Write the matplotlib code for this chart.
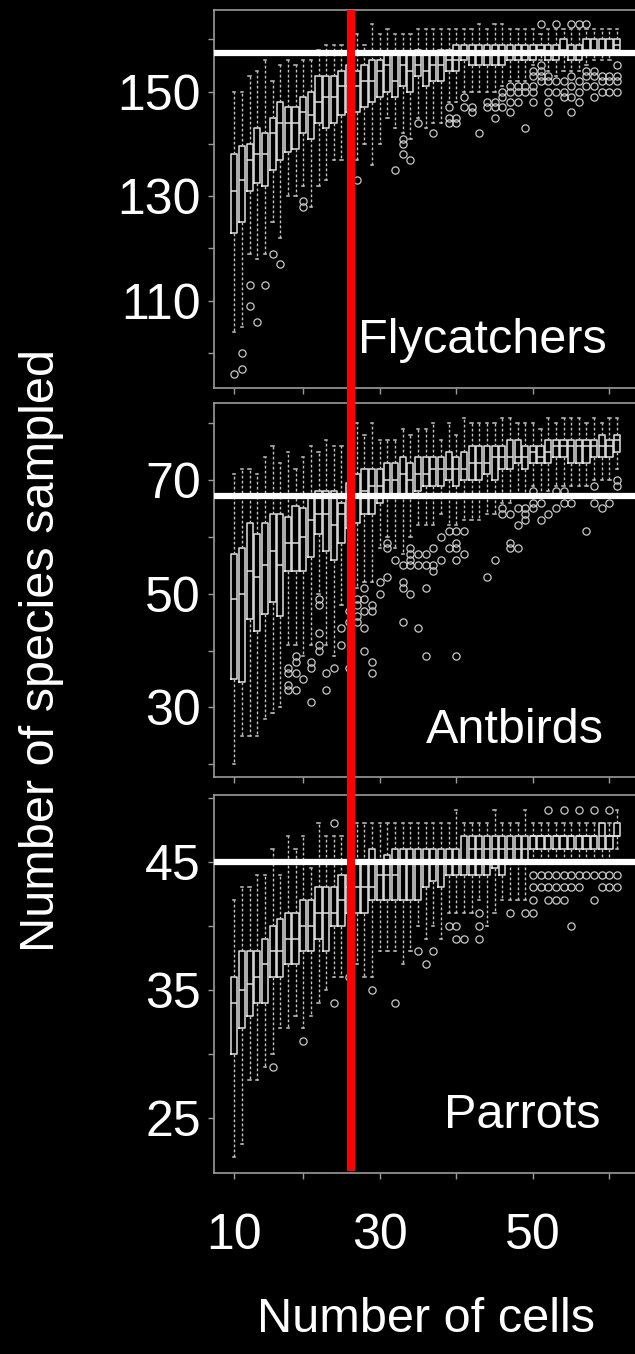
import matplotlib
matplotlib.use("Agg")
import matplotlib.pyplot as plt

plt.rcParams['font.family'] = ['Liberation Sans', 'DejaVu Sans']

# ---------------- data ----------------
cells = list(range(10, 61))

# Flycatchers
fly_lo = [104, 105, 119, 118, 119, 125, 122, 130, 130, 132, 128, 132, 133, 137, 137, 136, 137,
          140, 136, 140, 145, 143, 142, 141, 145, 143, 144, 144, 148, 148, 150, 150, 150, 150,
          150, 151, 152, 152, 152, 155, 156, 154, 153, 154, 154, 154, 155, 156, 156, 156, 157]
fly_q1 = [123, 125, 131, 132.5, 132, 135, 137, 138.5, 139, 142, 141, 144, 143, 144, 145.5, 146,
          146, 147, 148, 149, 150, 149, 151, 150, 153, 151, 152, 152, 154, 154, 156, 155, 155,
          155, 155, 155, 156, 156, 156, 156, 157, 156, 156, 157, 156, 156, 157, 157, 157, 157, 158]
fly_med = [131, 133, 137, 138, 138, 142, 144, 144, 144, 146, 145.5, 148, 149, 149, 151, 151, 151,
           152, 152, 154, 155, 152, 155, 154, 155, 154, 155, 155, 156, 156, 157, 157, 157, 157,
           157, 157, 157, 157, 157, 157, 158, 157, 157, 158, 157, 157, 158, 158, 158, 158, 159]
fly_q3 = [138, 139.5, 140, 143, 142, 145, 148, 147, 147, 149, 150, 153, 153, 153, 154, 155, 154,
          155, 156, 156, 157, 157, 157, 157, 158, 157, 157, 158, 158, 159, 159, 159, 159, 159,
          159, 159, 159, 159, 159, 159, 159, 159, 159, 160, 159, 159, 160, 160, 160, 160, 160]
fly_hi = [150, 150, 153, 154, 156, 152, 155, 156, 155, 156, 156, 158, 159, 159, 159, 159, 161,
          159, 163, 161, 162, 161, 161, 161, 162, 162, 162, 162, 162, 162, 162, 162, 163, 162,
          163, 163, 162, 162, 162, 162, 161, 162, 162, 162, 162, 162, 162, 162, 162, 162, 162]
fly_out_x = [10, 11, 11, 12, 12, 13, 14, 15, 16, 19, 19, 26, 31, 32, 32, 32, 33, 34, 36,
             38, 38, 38, 39, 39, 40, 40, 41, 41, 42, 43, 43, 44, 44, 44, 45, 45, 45,
             46, 46, 46, 46, 47, 47, 47, 48, 48, 48, 49, 49, 49, 49, 49,
             50, 50, 50, 50, 50, 51, 51, 51, 51, 51, 52, 52, 52, 53, 53, 53,
             54, 54, 54, 54, 54, 55, 55, 55, 55, 56, 56, 56, 56, 57, 57, 57, 57,
             58, 58, 58, 59, 59, 59, 60, 60, 60, 60]
fly_out_y = [96, 97, 100, 113, 109, 106, 113, 119, 117, 129, 128, 133, 135, 141, 140, 138, 137, 144, 142,
             147, 145, 144, 145, 144, 149, 147, 147, 146, 142, 148, 147, 148, 147, 145, 150, 149, 147,
             151, 150, 148, 146, 151, 150, 148, 151, 150, 143, 154, 153, 151, 150, 148,
             163, 155, 154, 153, 152, 153, 152, 150, 148, 146, 163, 152, 150, 152, 150, 149,
             163, 153, 151, 149, 146, 163, 152, 150, 148, 163, 154, 153, 151, 154, 153, 151, 149,
             153, 152, 150, 153, 152, 150, 155, 153, 152, 150]
fly_ref = 157.3

# Antbirds
ant_lo = [20, 25, 25, 25, 28, 29, 30, 41, 41, 39, 41, 50, 41, 39, 48, 48, 51, 52, 52, 58, 60,
          58, 57, 60, 62, 62, 62, 64, 62, 62, 63, 63, 63, 64, 64, 66, 66, 67, 67, 69, 67, 68,
          69, 69, 69, 69, 69, 70, 70, 70, 72]
ant_q1 = [35, 34.5, 45.5, 43.5, 46.5, 48.5, 46, 54, 54, 54, 56.5, 60.5, 57.5, 56, 59, 61.5, 62.5,
          64, 64, 66, 67.5, 67.5, 67.5, 67.5, 68, 69, 69, 69, 70, 69, 70, 70, 70, 71, 70, 72, 72,
          73, 72, 73, 73, 73, 74, 74, 73, 73, 73, 74, 74, 74, 75]
ant_med = [49, 50, 54, 53, 55, 57.5, 55, 59, 59, 60, 63, 64, 64, 62, 64, 67.5, 67.5, 68, 69, 69,
           70, 70, 71, 70, 71, 71, 72, 72, 72, 72, 72, 73, 73, 73, 74, 74, 74, 74, 74, 75, 74,
           75, 76, 76, 76, 76, 76, 76, 76, 76, 77]
ant_q3 = [57, 58, 62.5, 60.5, 62.5, 64, 64, 63.5, 65.5, 65, 67, 68, 68, 68, 66, 69.5, 71, 72, 72,
          72, 73, 73, 74, 73, 74, 74, 74, 74, 75, 74, 75, 76, 76, 76, 76, 76, 77, 77, 76, 76, 76,
          77, 77, 77, 77, 77, 77, 77, 78, 77, 78]
ant_hi = [71, 72, 72, 71, 74, 76, 73, 75, 72, 74, 76, 75, 77, 76, 76, 76, 80, 78, 80, 77, 77, 77,
          79, 78, 79, 79, 80, 77, 80, 78, 81, 80, 80, 80, 80, 81, 81, 80, 80, 80, 79, 81, 80, 81,
          81, 81, 80, 81, 80, 81, 81]
ant_out_x = [17, 17, 17, 17, 18, 18, 18, 18, 19, 20, 20, 20, 21, 21, 21, 21, 21, 22, 22, 23,
             24, 24, 25, 25, 25, 26, 26, 26, 26, 27, 27, 27, 27, 27, 28, 28, 28, 28, 29, 29,
             30, 30, 30, 31, 32, 32, 32, 32, 33, 33, 33, 33, 33, 34, 34, 34, 35, 35, 35, 35,
             36, 36, 36, 37, 37, 38, 38, 39, 39, 39, 39, 39, 40, 40, 43, 44, 45, 45, 46, 46, 46,
             47, 47, 47, 48, 48, 48, 49, 49, 49, 50, 50, 51, 52, 52, 53, 53, 54, 56, 57, 57,
             58, 59, 60, 60]
ant_out_y = [37, 36, 34, 33, 39, 38, 36, 33, 35, 38, 37, 31, 49, 48, 43, 41, 40, 36, 33, 37,
             44, 41, 47, 45, 37, 49, 48, 46, 45, 51, 49, 47, 44, 40, 48, 47, 38, 36, 52, 50,
             59, 58, 53, 56, 55, 52, 51, 45, 58, 57, 56, 55, 50, 57, 55, 44, 57, 55, 51, 39,
             58, 55, 54, 60, 56, 61, 58, 61, 59, 58, 56, 39, 61, 57, 53, 56, 65, 64, 64, 59, 58,
             65, 62, 58, 65, 64, 63, 68, 66, 65, 66, 63, 64, 68, 65, 68, 66, 66, 61, 69, 66,
             65, 66, 70, 69]
ant_ref = 67.2

# Parrots
par_lo = [22, 23, 28, 28, 29, 30, 32, 32, 33, 32, 33, 34, 35, 36, 36, 37, 37, 36, 36, 38, 38,
          38, 37, 38, 40, 39, 40, 39, 41, 41, 41, 41, 42, 40, 41, 42, 42, 42, 42, 45, 45, 45,
          45, 45, 45, 45, 45, 45, 45, 45, 46]
par_q1 = [30, 32, 33, 34, 34, 36, 36, 37, 37, 38, 38, 39, 38, 40, 40, 41, 41, 41, 42, 42, 42,
          42, 42, 42, 42, 43, 43.5, 43, 44, 44, 44, 44, 44, 44, 44.5, 44, 45, 45, 45, 46, 46,
          46, 46, 46, 46, 46, 46, 46, 46, 46, 47]
par_med = [34, 35, 35.5, 36, 37, 38, 38, 39, 39, 40, 40, 41, 41, 41, 42, 43, 43, 43, 43, 44, 44,
           44, 45, 45, 45, 45, 45, 45, 45, 45, 45, 46, 46, 46, 46, 46, 46, 46, 46, 47, 47, 47,
           47, 47, 47, 47, 47, 47, 47, 47, 47]
par_q3 = [36, 38, 38, 38, 39, 40, 40.5, 41, 41, 42, 42, 43, 43, 43, 44, 44, 45, 45, 46, 45,
          45.5, 46, 46, 46, 46, 46, 46, 46, 46, 46, 47, 47, 47, 47, 47, 47, 47, 47, 47, 47, 47,
          47, 47, 47, 47, 47, 47, 47, 48, 47, 48]
par_hi = [42, 43, 43, 44, 44, 46, 44, 47, 46, 47, 44.5, 48, 47, 47, 47, 47, 48, 48, 48, 48, 48,
          48, 48, 48, 48, 48, 48, 48, 48, 49, 48, 48, 48, 48, 49, 48, 48, 48, 49, 48, 48, 48,
          48, 48, 48, 48, 48, 48, 48, 48, 49]
par_out_x = [15, 19, 23, 23, 25, 28, 31, 34, 35, 36, 38, 39, 39, 40, 42, 42, 42, 46, 48,
             49, 49, 49, 49, 50, 50, 51, 51, 51, 51, 52, 52, 52, 53, 53, 53, 53,
             54, 54, 54, 55, 55, 55, 56, 57, 57, 57, 58, 58, 59, 59, 59, 60, 60]
par_out_y = [29, 31, 48, 34, 36, 35, 34, 38, 37, 38, 40, 40, 39, 39, 41, 40, 39, 41, 41,
             44, 43, 42, 41, 44, 43, 49, 44, 43, 42, 44, 43, 42, 49, 44, 43, 42,
             44, 43, 40, 49, 44, 43, 44, 49, 44, 42, 44, 43, 49, 44, 43, 44, 43]
par_ref = 45

panel_names = ["Flycatchers", "Antbirds", "Parrots"]
x_ticks = [10, 19, 29, 39, 49, 59]
x_tick_labels = ["10", "", "30", "", "50", ""]
red_x = 25.2

# ---------------- figure ----------------
W, H = 635, 1354
fig = plt.figure(figsize=(W / 100, H / 100), dpi=100, facecolor="black")

left_px, right_px = 214, 637
xlim = (7.35, 62.6)

panels = [
    dict(top=10, bottom=388, ylim=(93.3, 165.6), yt=[100, 110, 120, 130, 140, 150, 160],
         ylab={110: "110", 130: "130", 150: "150"},
         d=(fly_lo, fly_q1, fly_med, fly_q3, fly_hi, fly_out_x, fly_out_y), ref=fly_ref,
         lab_x=606.5, lab_base=353.3),
    dict(top=403.3, bottom=776.7, ylim=(17.8, 83.5), yt=[20, 30, 40, 50, 60, 70, 80],
         ylab={30: "30", 50: "50", 70: "70"},
         d=(ant_lo, ant_q1, ant_med, ant_q3, ant_hi, ant_out_x, ant_out_y), ref=ant_ref,
         lab_x=603.5, lab_base=743.3),
    dict(top=795, bottom=1173.3, ylim=(20.7, 50.2), yt=[25, 30, 35, 40, 45, 50],
         ylab={25: "25", 35: "35", 45: "45"},
         d=(par_lo, par_q1, par_med, par_q3, par_hi, par_out_x, par_out_y), ref=par_ref,
         lab_x=600.5, lab_base=1127.7),
]

box_col = "#e0e0e0"
whisk_col = "#c4c4c4"
spine_col = "#9a9a9a"

for i, p in enumerate(panels):
    ax = fig.add_axes([left_px / W, 1 - p["bottom"] / H,
                       (right_px - left_px) / W, (p["bottom"] - p["top"]) / H])
    ax.set_facecolor("black")
    lo, q1, med, q3, hi, ox, oy = p["d"]
    stats = []
    for j, c in enumerate(cells):
        fl = [y for x, y in zip(ox, oy) if x == c]
        stats.append(dict(whislo=lo[j], q1=q1[j], med=med[j], q3=q3[j],
                          whishi=hi[j], fliers=fl))
    ax.bxp(stats, positions=cells, widths=0.8, capwidths=0.3, manage_ticks=False,
           boxprops=dict(color=box_col, linewidth=1.1),
           medianprops=dict(color=box_col, linewidth=1.1),
           whiskerprops=dict(color=whisk_col, linewidth=1.0, linestyle=(0, (2, 1.6))),
           capprops=dict(color=whisk_col, linewidth=1.1),
           flierprops=dict(marker="o", markersize=5.2, markerfacecolor="none",
                           markeredgecolor="#c8c8c8", markeredgewidth=0.9, linestyle="none"))
    ax.axhline(p["ref"], color="white", linewidth=4.5, zorder=5)
    ax.set_xlim(*xlim)
    ax.set_ylim(*p["ylim"])
    ax.set_yticks(p["yt"])
    ax.set_yticklabels([p["ylab"].get(t, "") for t in p["yt"]])
    ax.set_xticks(x_ticks)
    if i == 2:
        ax.set_xticklabels(x_tick_labels)
    else:
        ax.set_xticklabels([""] * len(x_ticks))
    ax.tick_params(axis="both", direction="out", length=4.3, width=1.0, color=spine_col,
                   labelcolor="white", labelsize=36)
    ax.tick_params(axis="y", pad=5)
    ax.tick_params(axis="x", pad=24)
    for s in ax.spines.values():
        s.set_color(spine_col)
        s.set_linewidth(1.2)
    ax.text((p["lab_x"] - left_px) / (right_px - left_px),
            (p["bottom"] - p["lab_base"]) / (p["bottom"] - p["top"]),
            panel_names[i], transform=ax.transAxes, ha="right", va="baseline",
            color="white", fontsize=35, zorder=6)

# red vertical line across all panels
top_px, bot_px = 10, 1171
ov = fig.add_axes([left_px / W, 1 - bot_px / H, (right_px - left_px) / W, (bot_px - top_px) / H],
                  frameon=False)
ov.set_xlim(*xlim)
ov.set_ylim(0, 1)
ov.axvline(red_x, color="#ff0000", linewidth=5.8)
ov.set_xticks([])
ov.set_yticks([])
ov.patch.set_alpha(0)

fig.text(426 / W, 1 - 1320 / H, "Number of cells", color="white", fontsize=35,
         ha="center", va="center")
fig.text(42 / W, 1 - 650 / H, "Number of species sampled", color="white", fontsize=35,
         ha="center", va="center", rotation=90)

fig.savefig("out.png", dpi=100, facecolor="black")
